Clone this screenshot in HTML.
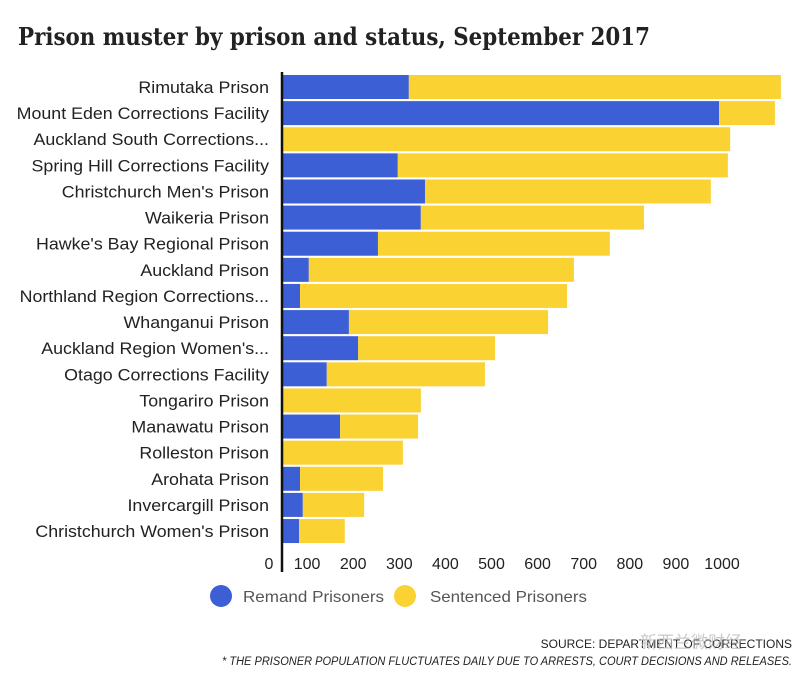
<!DOCTYPE html>
<html><head><meta charset="utf-8"><style>
body{margin:0;background:#fff;width:807px;height:674px;overflow:hidden;font-family:"Liberation Sans","DejaVu Sans",sans-serif;}
</style></head><body>
<svg width="807" height="674">
<text x="18" y="45" font-family="'DejaVu Serif','Liberation Serif',serif" font-weight="bold" font-size="24" fill="#222" textLength="632" lengthAdjust="spacingAndGlyphs">Prison muster by prison and status, September 2017</text>
<g id="bars"></g>
<line x1="282" y1="72" x2="282" y2="572" stroke="#111" stroke-width="2.5"/>
<g id="labels"></g>
<g id="ticks"></g>
<g>
<circle cx="221" cy="596" r="11" fill="#3c5fd6"/>
<text x="243" y="602" font-size="16" fill="#555" textLength="141" lengthAdjust="spacingAndGlyphs">Remand Prisoners</text>
<circle cx="405" cy="596" r="11" fill="#fad232"/>
<text x="430" y="602" font-size="16" fill="#555" textLength="157" lengthAdjust="spacingAndGlyphs">Sentenced Prisoners</text>
</g>
<text x="792" y="648" text-anchor="end" font-size="12" fill="#222">SOURCE: DEPARTMENT OF CORRECTIONS</text>
<text x="640" y="648" font-family="'Noto Sans CJK SC',sans-serif" font-size="17" fill="#bbb" opacity="0.8">新西兰微财经</text>
<text x="222" y="665" font-size="11.5" font-style="italic" fill="#222" textLength="570" lengthAdjust="spacingAndGlyphs">*  THE PRISONER POPULATION FLUCTUATES DAILY DUE TO ARRESTS, COURT DECISIONS AND RELEASES.</text>
</svg>
<script>
const categories=["Rimutaka Prison","Mount Eden Corrections Facility","Auckland South Corrections...","Spring Hill Corrections Facility","Christchurch Men's Prison","Waikeria Prison","Hawke's Bay Regional Prison","Auckland Prison","Northland Region Corrections...","Whanganui Prison","Auckland Region Women's...","Otago Corrections Facility","Tongariro Prison","Manawatu Prison","Rolleston Prison","Arohata Prison","Invercargill Prison","Christchurch Women's Prison"];
const remand=[273,946,0,249,308,299,206,56,37,143,163,95,0,124,0,37,43,35];
const sentenced=[807,121,970,716,620,484,503,575,579,432,297,343,299,169,260,180,133,99];
const tickValues=[0,100,200,300,400,500,600,700,800,900,1000];
const NS="http://www.w3.org/2000/svg";
const x0=283,k=0.461,yTop=75,step=26.12,bh=24;
function xs(v){return x0+v*k;}
function ys(i){return yTop+i*step;}
const bars=document.getElementById('bars'),labels=document.getElementById('labels'),ticks=document.getElementById('ticks');
categories.forEach((c,i)=>{
  const r=document.createElementNS(NS,'rect');
  r.setAttribute('x',xs(0));r.setAttribute('y',ys(i));r.setAttribute('width',xs(remand[i])-xs(0));r.setAttribute('height',bh);r.setAttribute('fill','#3c5fd6');
  
  
  bars.appendChild(r);
  const s=document.createElementNS(NS,'rect');
  s.setAttribute('x',xs(remand[i]));s.setAttribute('y',ys(i));s.setAttribute('width',xs(remand[i]+sentenced[i])-xs(remand[i]));s.setAttribute('height',bh);s.setAttribute('fill','#fad232');
  
  
  bars.appendChild(s);
  const t=document.createElementNS(NS,'text');
  t.setAttribute('x',269);t.setAttribute('y',ys(i)+bh/2+6);t.setAttribute('text-anchor','end');t.setAttribute('font-size','16.5');t.setAttribute('fill','#222');
  t.setAttribute('transform','translate(269,0) scale(1.08,1) translate(-269,0)');
  t.textContent=c;
  
  
  labels.appendChild(t);
});
tickValues.forEach(v=>{
  const t=document.createElementNS(NS,'text');
  t.setAttribute('x',v===0?269:xs(v)-22);t.setAttribute('y',569);t.setAttribute('text-anchor','middle');t.setAttribute('font-size','16');t.setAttribute('fill','#222');
  t.textContent=v;
  
  
  ticks.appendChild(t);
});
</script>
</body></html>
